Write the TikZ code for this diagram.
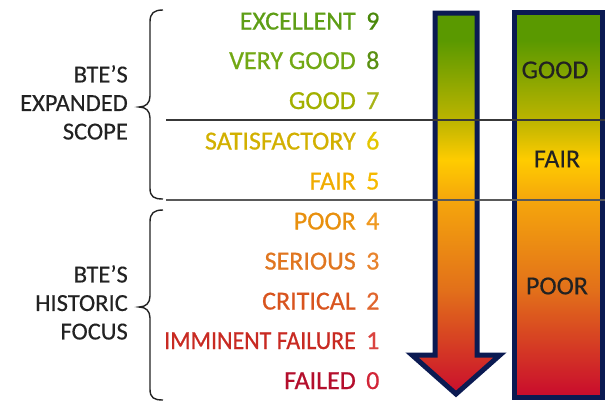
\documentclass[tikz,border=0pt]{standalone}
\usepackage{fontspec}
\setmainfont{Carlito}
\newfontfamily\labfont[FakeBold=0.7]{Carlito}
\newfontfamily\sidefont[FakeBold=0.3]{Carlito}
\definecolor{navy}{HTML}{0B1A52}
\definecolor{gA}{HTML}{5A9900}
\definecolor{gB}{HTML}{BCB400}
\definecolor{gC}{HTML}{FFCC00}
\definecolor{gD}{HTML}{F5A60C}
\definecolor{gE}{HTML}{E2701A}
\definecolor{gF}{HTML}{C8062E}
\definecolor{ink}{HTML}{222222}
\definecolor{l9}{HTML}{5E9E16}\definecolor{d9}{HTML}{4A880A}
\definecolor{l8}{HTML}{72A814}\definecolor{d8}{HTML}{5A9012}
\definecolor{l7}{HTML}{A2B000}\definecolor{d7}{HTML}{A8B418}
\definecolor{l6}{HTML}{D2B000}\definecolor{d6}{HTML}{E4C600}
\definecolor{l5}{HTML}{F0AC00}\definecolor{d5}{HTML}{F6BA00}
\definecolor{l4}{HTML}{E8900E}\definecolor{d4}{HTML}{F09A20}
\definecolor{l3}{HTML}{E07620}\definecolor{d3}{HTML}{E8842E}
\definecolor{l2}{HTML}{D8541E}\definecolor{d2}{HTML}{E0662E}
\definecolor{l1}{HTML}{C82A22}\definecolor{d1}{HTML}{DA4440}
\definecolor{l0}{HTML}{B40E2C}\definecolor{d0}{HTML}{D22638}
\newcommand{\gradbars}[2]{%
  \shade[top color=gA,bottom color=gA] (#1,8) rectangle (#2,40);
  \shade[top color=gA,bottom color=gB] (#1,40) rectangle (#2,120);
  \shade[top color=gB,bottom color=gC] (#1,120) rectangle (#2,160);
  \shade[top color=gC,bottom color=gD] (#1,160) rectangle (#2,200);
  \shade[top color=gD,bottom color=gE] (#1,200) rectangle (#2,290);
  \shade[top color=gE,bottom color=gF] (#1,290) rectangle (#2,402);
}
\begin{document}
\begin{tikzpicture}[x=1pt,y=-1pt,
  lab/.style={anchor=base east,inner sep=0pt,font=\labfont\fontsize{26}{28}\selectfont},
  num/.style={anchor=base west,inner sep=0pt,font=\labfont\fontsize{26}{28}\selectfont},
  side/.style={anchor=north east,inner sep=0pt,align=right,text=ink,font=\sidefont\fontsize{24.5}{28.5}\selectfont},
  barlab/.style={inner sep=0pt,text=ink,font=\sidefont\fontsize{26}{28}\selectfont},
  bracestyle/.style={draw=ink,line width=1.4pt},
  sepline/.style={draw=ink!90,line width=1.5pt},
  frame/.style={draw=navy,line width=5pt,line join=miter}]
\useasboundingbox (0,0) rectangle (611,402);
% arrow
\begin{scope}
\clip (435,13) -- (477,13) -- (477,355) -- (500,355) -- (456,394) -- (412,355) -- (435,355) -- cycle;
\gradbars{400}{510}
\end{scope}
\draw[frame] (435,13) -- (477,13) -- (477,355) -- (500,355) -- (456,394) -- (412,355) -- (435,355) -- cycle;
% right bar
\begin{scope}
\clip (514.5,12.5) rectangle (602.5,397.5);
\gradbars{510}{606}
\end{scope}
\draw[frame] (514.5,12.5) rectangle (602.5,397.5);
% separators
\coordinate (s1) at (166,120); \coordinate (e1) at (605,120);
\coordinate (s2) at (166,200); \coordinate (e2) at (605,200);
\draw[sepline] (s1) -- (e1);
\draw[sepline,draw=ink!75] (s2) -- (e2);
% bar labels
\node[barlab] (bgood) at (555,70) {GOOD};
\node[barlab] (bfair) at (557,159) {FAIR};
\node[barlab] (bpoor) at (557,286) {POOR};
% list
\node[lab,text=l9] (t9) at (356,29.5) {EXCELLENT};
\node[num,text=d9] (n9) at (366,29.5) {9};
\node[lab,text=l8] (t8) at (356,69) {VERY GOOD};
\node[num,text=d8] (n8) at (366,69) {8};
\node[lab,text=l7] (t7) at (356,109) {GOOD};
\node[num,text=d7] (n7) at (366,109) {7};
\node[lab,text=l6] (t6) at (356,149.5) {SATISFACTORY};
\node[num,text=d6] (n6) at (366,149.5) {6};
\node[lab,text=l5] (t5) at (356,189.5) {FAIR};
\node[num,text=d5] (n5) at (366,189.5) {5};
\node[lab,text=l4] (t4) at (356,229.5) {POOR};
\node[num,text=d4] (n4) at (366,229.5) {4};
\node[lab,text=l3] (t3) at (356,269.5) {SERIOUS};
\node[num,text=d3] (n3) at (366,269.5) {3};
\node[lab,text=l2] (t2) at (356,309.5) {CRITICAL};
\node[num,text=d2] (n2) at (366,309.5) {2};
\node[lab,text=l1] (t1) at (356,349) {\scalebox{0.92}[1]{IMMINENT FAILURE}};
\node[num,text=d1] (n1) at (366,349) {1};
\node[lab,text=l0] (t0) at (356,389) {FAILED};
\node[num,text=d0] (n0) at (366,389) {0};
% side labels
\node[side] (exp) at (128,65) {BTE’S\\EXPANDED\\SCOPE};
\node[side] (his) at (128,265) {BTE’S\\HISTORIC\\FOCUS};
% braces
\draw[bracestyle] (163,10) .. controls (154,10) and (150,13) .. (150,22) -- (150,96) .. controls (150,103) and (146,107) .. (139,107) .. controls (146,107) and (150,111) .. (150,118) -- (150,188) .. controls (150,197) and (154,199) .. (163,199);
\draw[bracestyle] (163,210) .. controls (154,210) and (150,213) .. (150,222) -- (150,296) .. controls (150,303) and (146,307) .. (139,307) .. controls (146,307) and (150,311) .. (150,318) -- (150,389) .. controls (150,398) and (154,400) .. (163,400);
\end{tikzpicture}
\end{document}
